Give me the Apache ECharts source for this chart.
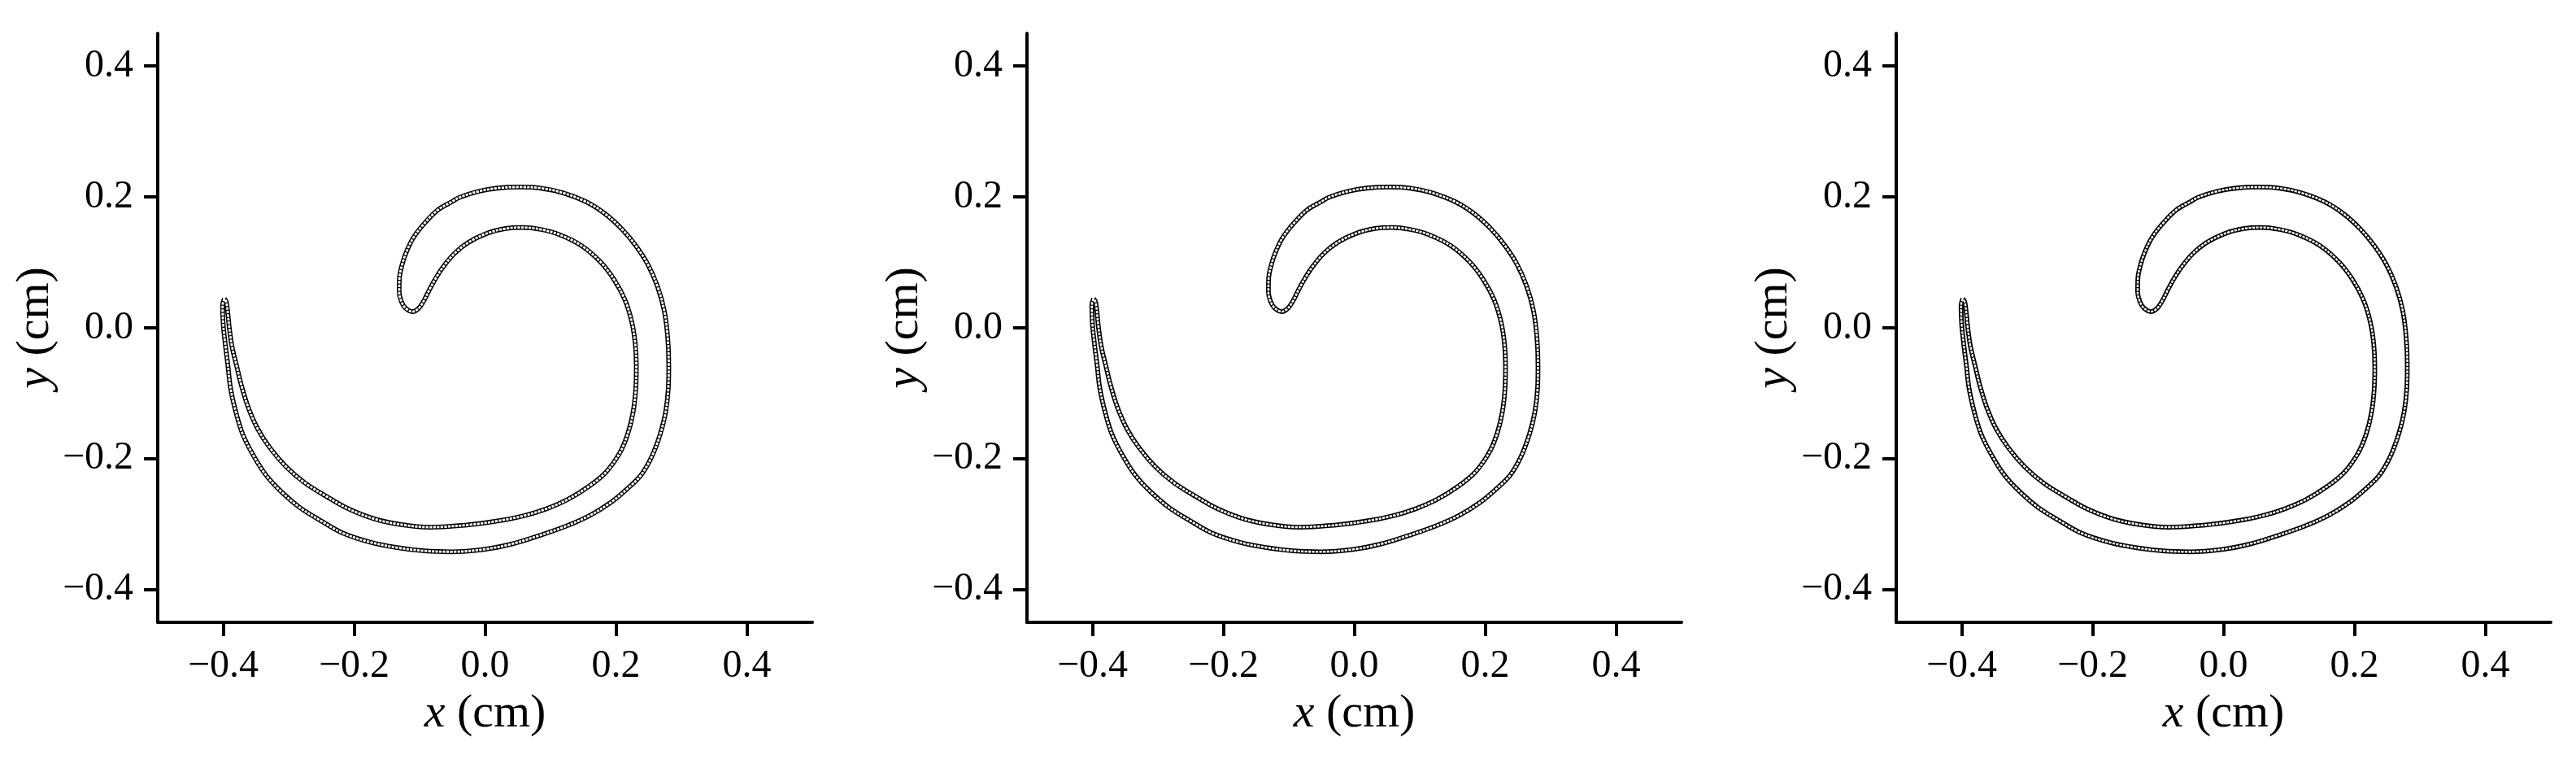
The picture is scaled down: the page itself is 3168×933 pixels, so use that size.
<!DOCTYPE html>
<html>
<head>
<meta charset="utf-8">
<script src="https://cdn.jsdelivr.net/npm/echarts@6/dist/echarts.min.js"></script>
<style>
html,body{margin:0;padding:0;background:#fff;}
#chart{width:3168px;height:933px;}
</style>
</head>
<body>
<div id="chart"></div>
<script>
// Boundary of the vortex patch (closed loop) (cm)
const curveX = [-0.3983,-0.4010,-0.4000,-0.3970,-0.3929,-0.3888,-0.3805,-0.3702,-0.3535,-0.3349,
  -0.3122,-0.2832,-0.2501,-0.2169,-0.1755,-0.1342,-0.0927,-0.0513,-0.0016,0.0398,
  0.0812,0.1226,0.1599,0.1930,0.2179,0.2385,0.2552,0.2676,0.2758,0.2800,
  0.2807,0.2791,0.2738,0.2634,0.2489,0.2303,0.2096,0.1847,0.1558,0.1185,
  0.0853,0.0522,0.0191,-0.0099,-0.0389,-0.0513,-0.0720,-0.0927,-0.1093,-0.1196,
  -0.1267,-0.1308,-0.1312,-0.1280,-0.1217,-0.1106,-0.1010,-0.0927,-0.0845,-0.0740,
  -0.0637,-0.0472,-0.0265,0.0025,0.0316,0.0564,0.0853,0.1143,0.1475,0.1764,
  0.1971,0.2137,0.2241,0.2294,0.2311,0.2303,0.2261,0.2179,0.2055,0.1847,
  0.1599,0.1267,0.0937,0.0605,0.0191,-0.0224,-0.0637,-0.0845,-0.1258,-0.1672,
  -0.2087,-0.2417,-0.2749,-0.3039,-0.3287,-0.3473,-0.3619,-0.3722,-0.3793,-0.3867,
  -0.3908,-0.3950];
const curveY = [0.0447,0.0344,0.0054,-0.0237,-0.0568,-0.0921,-0.1294,-0.1625,-0.1957,-0.2247,
  -0.2495,-0.2744,-0.2952,-0.3138,-0.3275,-0.3358,-0.3408,-0.3422,-0.3385,-0.3305,
  -0.3179,-0.3035,-0.2868,-0.2662,-0.2454,-0.2247,-0.1957,-0.1625,-0.1294,-0.0921,
  -0.0576,-0.0154,0.0261,0.0634,0.0966,0.1255,0.1504,0.1733,0.1920,0.2064,
  0.2135,0.2151,0.2135,0.2085,0.1994,0.1923,0.1803,0.1596,0.1380,0.1173,
  0.0966,0.0758,0.0552,0.0406,0.0303,0.0248,0.0303,0.0427,0.0593,0.0779,
  0.0935,0.1131,0.1298,0.1442,0.1517,0.1534,0.1504,0.1422,0.1255,0.1007,
  0.0738,0.0427,0.0095,-0.0237,-0.0576,-0.0921,-0.1294,-0.1625,-0.1916,-0.2206,
  -0.2413,-0.2620,-0.2765,-0.2868,-0.2952,-0.3008,-0.3040,-0.3046,-0.3010,-0.2925,
  -0.2765,-0.2579,-0.2371,-0.2122,-0.1832,-0.1543,-0.1211,-0.0879,-0.0589,-0.0278,
  0.0012,0.0385];
const tickValues = [-0.4, -0.2, 0.0, 0.2, 0.4];
const panelCount = 3;
const xLabel = '{i|x}{n| (cm)}';
const yLabel = '{i|y}{n| (cm)}';

const chart = echarts.init(document.getElementById('chart'), null, {renderer: 'canvas'});
const FONT = 'Liberation Serif';
const lefts = [194, 1263, 2332];
const innerWidths = [2.8, 2.6, 2.4];
const loop = curveX.map((x, i) => [x, curveY[i]]);
loop.push(loop[0]);

const fmt = v => {
  const s = Math.abs(v) < 1e-9 ? '0.0' : v.toFixed(1);
  return s.replace('-', '\u2212');
};

const grids = [], xAxes = [], yAxes = [], series = [];
for (let p = 0; p < panelCount; p++) {
  grids.push({left: lefts[p], top: 41, width: 805, height: 724, containLabel: false});
  const mk = (extra) => Object.assign({
    type: 'value', gridIndex: p, min: -0.5, max: 0.5,
    axisLine: {show: true, onZero: false, lineStyle: {color: '#000', width: 4}},
    axisTick: {show: true, inside: false, length: 17, lineStyle: {color: '#000', width: 4}, customValues: tickValues},
    axisLabel: {show: true, customValues: tickValues, formatter: fmt,
      color: '#000', fontFamily: FONT, fontSize: 48, margin: 30},
    splitLine: {show: false},
    nameLocation: 'middle',
    nameTextStyle: {color: '#000', fontFamily: FONT, fontSize: 58,
      rich: {
        i: {fontFamily: FONT, fontStyle: 'italic', fontSize: 58, color: '#000'},
        n: {fontFamily: FONT, fontSize: 58, color: '#000'}
      }}
  }, extra);
  xAxes.push(mk({name: xLabel, nameGap: 84}));
  yAxes.push(mk({min: -0.45, max: 0.45, name: yLabel, nameGap: 114, nameRotate: 90}));
  series.push({
    type: 'line', xAxisIndex: p, yAxisIndex: p, data: loop, smooth: 0.35,
    symbol: 'none', silent: true, animation: false,
    lineStyle: {color: '#000', width: 5.8}
  });
  series.push({
    type: 'line', xAxisIndex: p, yAxisIndex: p, data: loop, smooth: 0.35,
    symbol: 'none', silent: true, animation: false,
    lineStyle: {color: '#fff', width: innerWidths[p], type: [3.2, 1.3]}
  });
}

chart.setOption({
  backgroundColor: '#fff',
  animation: false,
  textStyle: {fontFamily: FONT},
  grid: grids, xAxis: xAxes, yAxis: yAxes, series: series
});
</script>
</body>
</html>
